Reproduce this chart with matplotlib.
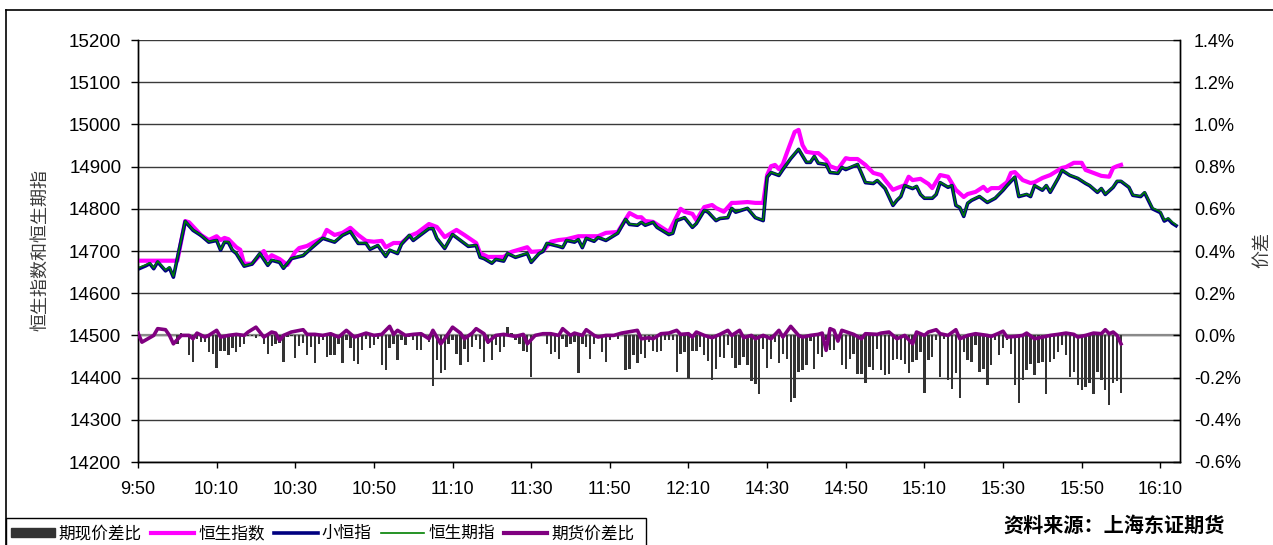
import matplotlib
matplotlib.use("Agg")
import matplotlib.pyplot as plt
from matplotlib.lines import Line2D
from matplotlib.patches import Patch, Rectangle
from matplotlib.ticker import FuncFormatter

plt.rcParams['font.family'] = ['Liberation Sans', 'Noto Sans CJK SC', 'DejaVu Sans']

# x data: trading-minute number counted from 09:50 (09:50-12:29, then 14:30-16:14)
x_tick_labels = ["9:50", "10:10", "10:30", "10:50", "11:10", "11:30", "11:50",
                 "12:10", "14:30", "14:50", "15:10", "15:30", "15:50", "16:10"]

# 恒生期指 (HSI futures)
fut_idx = [0, 2, 3, 4, 5, 7, 8, 9, 12, 14, 16, 18, 20, 21, 22, 23, 24, 25, 27, 29,
           31, 33, 34, 36, 37, 39, 42, 44, 47, 48, 50, 52, 54, 56, 58, 59, 61, 63, 64, 66,
           67, 69, 70, 71, 74, 75, 76, 78, 80, 82, 84, 86, 87, 88, 90, 91, 93, 94, 96, 99,
           100, 102, 103, 104, 107, 108, 109, 111, 112, 113, 114, 116, 117, 119, 122, 124, 125, 127, 128, 129,
           131, 132, 135, 136, 137, 139, 141, 142, 144, 145, 147, 148, 150, 151, 152, 155, 157, 159, 160, 161,
           163, 164, 166, 168, 170, 171, 172, 173, 175, 176, 178, 179, 180, 183, 184, 185, 187, 188, 190, 192,
           193, 194, 195, 197, 198, 199, 200, 202, 203, 204, 206, 207, 208, 209, 210, 211, 212, 214, 216, 218,
           220, 221, 223, 224, 226, 227, 228, 230, 231, 232, 234, 235, 237, 239, 241, 242, 244, 245, 246, 248,
           249, 250, 252, 253, 255, 256, 257, 258, 260, 261, 262, 263, 264]
fut_val = [14660, 14667, 14672, 14660, 14676, 14655, 14662, 14640, 14771, 14750, 14738, 14722, 14726, 14703, 14722, 14722, 14703, 14695, 14665, 14670,
           14695, 14667, 14679, 14674, 14660, 14683, 14690, 14707, 14731, 14728, 14722, 14738, 14747, 14719, 14719, 14705, 14714, 14688, 14703, 14695,
           14717, 14738, 14726, 14733, 14754, 14754, 14731, 14707, 14740, 14726, 14712, 14714, 14686, 14683, 14672, 14681, 14677, 14695, 14686, 14695,
           14674, 14695, 14700, 14719, 14712, 14709, 14726, 14722, 14728, 14709, 14731, 14724, 14733, 14726, 14743, 14776, 14764, 14762, 14769, 14762,
           14769, 14757, 14740, 14743, 14773, 14780, 14757, 14766, 14797, 14793, 14773, 14778, 14780, 14802, 14793, 14802, 14780, 14773, 14876, 14887,
           14880, 14894, 14920, 14942, 14911, 14911, 14925, 14909, 14906, 14887, 14885, 14899, 14894, 14906, 14885, 14863, 14861, 14868, 14849, 14809,
           14821, 14830, 14856, 14849, 14854, 14835, 14826, 14826, 14835, 14863, 14852, 14856, 14809, 14804, 14783, 14814, 14821, 14830, 14816, 14826,
           14845, 14856, 14876, 14830, 14835, 14830, 14856, 14845, 14856, 14840, 14873, 14892, 14880, 14873, 14861, 14856, 14840, 14849, 14835, 14852,
           14866, 14866, 14852, 14833, 14830, 14840, 14821, 14802, 14793, 14773, 14778, 14769, 14762]

# 小恒指 (mini HSI futures)
mini_val = [14657, 14665, 14670, 14658, 14674, 14653, 14660, 14638, 14770, 14749, 14737, 14721, 14725, 14702, 14721, 14720, 14702, 14694, 14664, 14669,
            14694, 14666, 14678, 14673, 14659, 14682, 14689, 14706, 14730, 14727, 14721, 14737, 14746, 14718, 14718, 14704, 14713, 14687, 14702, 14694,
            14716, 14737, 14725, 14732, 14753, 14753, 14730, 14706, 14739, 14725, 14711, 14713, 14685, 14682, 14671, 14680, 14676, 14694, 14685, 14694,
            14673, 14694, 14699, 14718, 14711, 14708, 14725, 14721, 14727, 14708, 14730, 14723, 14732, 14725, 14742, 14775, 14763, 14761, 14768, 14761,
            14768, 14756, 14739, 14742, 14772, 14779, 14756, 14765, 14796, 14792, 14772, 14777, 14779, 14801, 14792, 14801, 14779, 14772, 14875, 14886,
            14879, 14893, 14919, 14941, 14910, 14910, 14924, 14908, 14905, 14886, 14884, 14898, 14893, 14905, 14884, 14862, 14860, 14867, 14848, 14808,
            14820, 14829, 14855, 14848, 14853, 14834, 14825, 14825, 14834, 14862, 14851, 14855, 14808, 14803, 14782, 14813, 14820, 14829, 14815, 14825,
            14844, 14855, 14875, 14829, 14834, 14829, 14855, 14844, 14855, 14839, 14872, 14891, 14879, 14872, 14860, 14855, 14839, 14848, 14834, 14851,
            14865, 14865, 14851, 14832, 14829, 14838, 14819, 14800, 14791, 14771, 14776, 14766, 14760]

# 恒生指数 (Hang Seng Index)
hsi_idx = [0, 10, 12, 13, 16, 18, 20, 21, 22, 23, 25, 26, 27, 29, 32, 33, 34, 36, 38, 40,
           41, 43, 45, 47, 48, 50, 52, 54, 56, 58, 60, 62, 63, 65, 67, 69, 71, 74, 76, 78,
           81, 83, 86, 87, 89, 93, 95, 99, 100, 103, 105, 107, 109, 112, 115, 117, 119, 122, 125, 127,
           128, 129, 131, 133, 135, 138, 139, 141, 142, 144, 146, 147, 149, 151, 152, 155, 157, 159, 160, 161,
           162, 163, 164, 165, 167, 168, 169, 170, 172, 173, 175, 176, 178, 180, 181, 183, 185, 187, 189, 190,
           192, 193, 195, 196, 197, 199, 201, 202, 204, 206, 208, 210, 211, 213, 215, 216, 217, 219, 221, 222,
           223, 225, 227, 228, 230, 232, 235, 236, 238, 240, 241, 243, 245, 247, 248, 249, 250]
hsi_val = [14677, 14677, 14771, 14768, 14738, 14726, 14735, 14726, 14731, 14728, 14709, 14703, 14670, 14670, 14700, 14681, 14690, 14681, 14667, 14698,
           14707, 14712, 14722, 14731, 14750, 14738, 14743, 14755, 14738, 14724, 14722, 14724, 14709, 14719, 14719, 14735, 14743, 14764, 14757, 14733,
           14750, 14738, 14719, 14695, 14686, 14686, 14698, 14709, 14698, 14700, 14722, 14726, 14728, 14735, 14735, 14735, 14743, 14745, 14790, 14780,
           14780, 14771, 14769, 14757, 14745, 14800, 14793, 14788, 14773, 14804, 14809, 14802, 14793, 14814, 14814, 14816, 14814, 14814, 14880, 14901,
           14904, 14894, 14906, 14932, 14982, 14987, 14951, 14935, 14932, 14932, 14916, 14901, 14894, 14920, 14918, 14918, 14904, 14885, 14880, 14868,
           14845, 14849, 14856, 14876, 14868, 14871, 14859, 14849, 14880, 14876, 14845, 14828, 14835, 14840, 14852, 14842, 14849, 14849, 14863, 14885,
           14887, 14868, 14861, 14863, 14873, 14880, 14897, 14899, 14909, 14909, 14892, 14885, 14878, 14876, 14897, 14901, 14904]

# 期现价差比 (%), one bar per minute from 10:00 (minute 10) to 16:00 (minute 250)
basis_start = 10
basis_pct = [-0.043, 0.010, 0.005, -0.095, -0.126, -0.016, -0.032, -0.032, -0.079, -0.090,
             -0.153, -0.076, -0.074, -0.095, -0.058, -0.079, -0.055, -0.043, -0.005, -0.004,
             -0.011, -0.005, -0.043, -0.090, -0.052, -0.043, -0.036, -0.126, -0.008, -0.005,
             -0.106, -0.052, -0.036, -0.095, -0.055, -0.131, -0.043, -0.021, -0.103, -0.095,
             -0.095, -0.043, -0.131, -0.021, -0.058, -0.122, -0.137, -0.071, -0.016, -0.058,
             -0.047, -0.016, -0.142, -0.163, -0.058, -0.043, -0.118, -0.021, -0.047, -0.008,
             -0.024, -0.071, -0.071, -0.008, -0.032, -0.240, -0.118, -0.177, -0.163, -0.039,
             -0.024, -0.087, -0.142, -0.063, -0.126, -0.055, -0.024, -0.063, -0.126, -0.043,
             -0.118, -0.047, -0.079, -0.055, 0.039, 0.011, -0.024, -0.043, -0.074, -0.079,
             -0.197, -0.008, -0.003, 0.016, -0.043, -0.087, -0.079, -0.111, -0.016, -0.055,
             -0.043, -0.032, -0.179, -0.043, -0.055, -0.111, -0.043, -0.005, -0.079, -0.126,
             -0.024, 0.005, -0.016, 0.005, -0.163, -0.158, -0.095, -0.131, -0.087, -0.106,
             -0.032,
             -0.074, -0.079, -0.074, -0.024, -0.024, -0.024, -0.174, -0.087, -0.079, -0.200,
             -0.074, -0.074, -0.055, -0.095, -0.122, -0.210, -0.158, -0.100, -0.106, -0.047,
             -0.106, -0.153, -0.142, -0.103, -0.142, -0.216, -0.229, -0.276, -0.063, -0.153,
             -0.111, -0.032, -0.131, -0.087, -0.111, -0.316, -0.295, -0.174, -0.163, -0.142,
             -0.027, -0.158, -0.090, -0.103, -0.024, -0.071, -0.071, -0.032, -0.142, -0.158,
             -0.111, -0.087, -0.185, -0.185, -0.226, -0.150, -0.163, -0.063, -0.163, -0.190,
             -0.185, -0.115, -0.111, -0.115, -0.134, -0.179, -0.126, -0.118, -0.079, -0.273,
             -0.118, -0.103, -0.024, -0.197, -0.016, -0.213, -0.253, -0.179, -0.295, -0.079,
             -0.118, -0.126, -0.047, -0.174, -0.158, -0.237, -0.142, -0.024, -0.095, -0.058,
             -0.024, -0.087, -0.237, -0.321, -0.213, -0.166, -0.134, -0.190, -0.131, -0.126,
             -0.276, -0.126, -0.111, -0.079, -0.047, -0.095, -0.197, -0.174, -0.237, -0.261,
             -0.245, -0.226, -0.276, -0.174, -0.213, -0.261, -0.332, -0.226, -0.216, -0.273]

# 期货价差比 (%)
spread_idx = [0, 1, 4, 5, 7, 8, 9, 11, 13, 14, 15, 17, 18, 20, 21, 23, 25, 27, 28, 30,
              32, 34, 35, 36, 37, 39, 42, 43, 45, 47, 49, 51, 53, 55, 57, 58, 60, 62, 64, 65,
              66, 68, 70, 72, 74, 75, 77, 78, 80, 82, 83, 85, 86, 88, 89, 91, 93, 96, 98, 99,
              101, 103, 105, 107, 108, 110, 111, 113, 114, 116, 117, 119, 121, 123, 127, 128, 130, 131, 133, 135,
              137, 138, 140, 141, 142, 144, 146, 148, 150, 151, 153, 154, 156, 157, 159, 161, 163, 164, 166, 168,
              169, 171, 173, 174, 175, 176, 177, 178, 179, 181, 182, 184, 185, 188, 189, 191, 193, 195, 197, 198,
              200, 201, 203, 204, 206, 208, 209, 211, 213, 216, 217, 219, 220, 221, 223, 225, 226, 228, 230, 232,
              234, 236, 238, 239, 241, 243, 245, 246, 247, 248, 249, 250]
spread_pct = [0.011, -0.032, 0.000, 0.032, 0.027, 0.000, -0.040, 0.000, 0.000, -0.016, 0.011, -0.008, 0.000, 0.024, -0.008, 0.000, 0.005, 0.000, 0.016, 0.039,
              -0.008, 0.016, 0.011, -0.024, 0.000, 0.016, 0.027, 0.005, 0.005, 0.000, 0.008, -0.008, 0.024, -0.008, 0.005, 0.011, 0.000, 0.005, 0.043, 0.005,
              0.024, 0.000, 0.005, 0.008, -0.016, 0.024, -0.040, -0.016, 0.039, 0.011, -0.016, 0.011, 0.032, 0.008, -0.032, 0.000, 0.005, -0.005, 0.005, -0.040,
              0.000, 0.008, 0.008, 0.000, 0.032, 0.000, 0.011, 0.000, 0.027, 0.000, -0.008, 0.000, 0.000, 0.011, 0.024, -0.016, -0.011, -0.016, 0.008, 0.011,
              0.024, 0.005, 0.008, -0.008, 0.016, 0.000, -0.011, 0.005, 0.024, 0.000, 0.024, -0.011, 0.000, -0.016, 0.000, -0.016, 0.024, -0.008, 0.043, 0.000,
              -0.008, 0.000, 0.005, 0.011, -0.071, 0.032, 0.024, -0.027, 0.024, 0.011, 0.005, -0.016, 0.008, 0.005, 0.011, 0.016, -0.016, 0.000, -0.040, 0.016,
              0.000, 0.016, 0.027, 0.008, 0.000, 0.027, -0.016, 0.000, 0.008, 0.000, -0.005, 0.011, 0.020, -0.008, -0.005, 0.000, 0.011, -0.016, -0.008, 0.000,
              0.005, 0.011, 0.005, -0.008, 0.000, 0.011, 0.008, 0.027, 0.008, 0.016, 0.000, -0.040]

# ---------------------------------------------------------------
W, H = 1273, 545
fig = plt.figure(figsize=(W / 100, H / 100), dpi=100)
L, R, T, B = 138, 1180, 40, 462
ax = fig.add_axes([L / W, 1 - B / H, (R - L) / W, (B - T) / H])
ax2 = ax.twinx()

ax.set_xlim(0, 265)
ax.set_ylim(14200, 15200)
ax2.set_ylim(-0.6, 1.4)

ax.set_yticks(range(14200, 15201, 100))
ax2.set_yticks([-0.6, -0.4, -0.2, 0.0, 0.2, 0.4, 0.6, 0.8, 1.0, 1.2, 1.4])
ax2.yaxis.set_major_formatter(FuncFormatter(lambda v, p: f"{v:.1f}%"))
ax.set_xticks(range(0, 20 * len(x_tick_labels), 20))
ax.set_xticklabels(x_tick_labels)

ax.grid(axis='y', color='#3a3a3a', lw=1.0)
ax.set_axisbelow(True)
for a in (ax, ax2):
    a.spines['top'].set_visible(False)
    for s in ('left', 'right', 'bottom'):
        a.spines[s].set_color('black')
        a.spines[s].set_linewidth(1.0)

ax.tick_params(axis='y', labelsize=13.5, length=5, width=1, pad=7, direction='out')
ax2.tick_params(axis='y', labelsize=13, length=5, width=1, pad=10, direction='in')
ax.tick_params(axis='x', labelsize=13, length=4, width=1, pad=10, direction='out')

# lines on the index axis
ax.plot(hsi_idx, hsi_val, color='#FF00FF', lw=3.0, solid_joinstyle='round', zorder=3)
ax.plot(fut_idx, mini_val, color='#000080', lw=2.6, zorder=4)
ax.plot(fut_idx, fut_val, color='#008000', lw=1.1, zorder=5)

# bars + spread line on the percent axis
ax2.axhline(0, color='#8a8a8a', lw=1.6, zorder=0)
bar_x = list(range(basis_start, basis_start + len(basis_pct)))
ax2.bar(bar_x, basis_pct, width=0.6, color='#333333', zorder=2)
ax2.plot(spread_idx, spread_pct, color='#800080', lw=2.6, zorder=3)

cjk = ['Noto Sans CJK SC', 'DejaVu Sans']
fig.text(40 / W, 1 - 250 / H, '恒生指数和恒生期指', fontsize=13, color='#3a3a3a',
         rotation=90, ha='center', va='center', family=cjk)
fig.text(1262 / W, 1 - 250 / H, '价差', fontsize=13, color='#3a3a3a',
         rotation=90, ha='center', va='center', family=cjk)

# chart-area border (left and top)
fig.add_artist(Line2D([6 / W, 6 / W], [0, 1 - 10 / H], transform=fig.transFigure, color='black', lw=1.2))
fig.add_artist(Line2D([6 / W, 1], [1 - 10 / H, 1 - 10 / H], transform=fig.transFigure, color='black', lw=1.2))

# legend box (runs past the bottom edge, as in the reference)
fig.add_artist(Rectangle((6 / W, -0.05), (646 - 6) / W, 0.05 + (545 - 518) / H,
                         transform=fig.transFigure, facecolor='white', edgecolor='black',
                         lw=1.0, zorder=1))

handles = [Patch(facecolor='#333333', edgecolor='#333333'),
           Line2D([], [], color='#FF00FF', lw=3),
           Line2D([], [], color='#000080', lw=2.6),
           Line2D([], [], color='#008000', lw=1.2),
           Line2D([], [], color='#800080', lw=3)]
labels = ['期现价差比', '恒生指数', '小恒指', '恒生期指', '期货价差比']
leg = fig.legend(handles, labels, loc='upper left', bbox_to_anchor=(8 / W, 1 - 522 / H),
                 ncol=5, frameon=False,
                 handlelength=2.6, handleheight=0.5, handletextpad=0.25, columnspacing=0.55,
                 borderpad=0.2, borderaxespad=0,
                 prop={'family': cjk, 'size': 12})
leg.set_zorder(2)

fig.text(1003 / W, 1 - 525 / H, '资料来源：上海东证期货', fontsize=14.5, fontweight='bold',
         va='center', ha='left', family=cjk)

fig.savefig('out.png', dpi=100)
